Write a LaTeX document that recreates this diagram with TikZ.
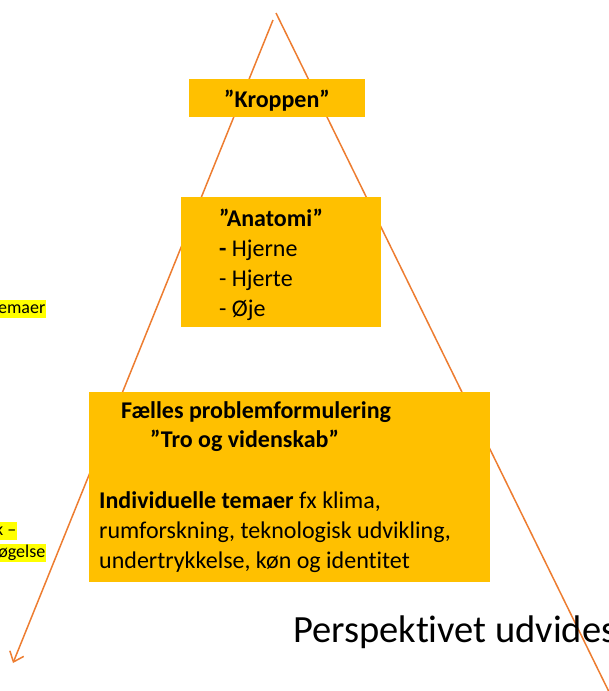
\documentclass[tikz,border=0pt]{standalone}
\usepackage{fontspec}
\setmainfont{Carlito}[Ligatures=NoCommon]
\usetikzlibrary{arrows.meta}
\definecolor{boxfill}{HTML}{FFC000}
\definecolor{lineor}{HTML}{ED7D31}
\definecolor{hlyellow}{HTML}{FFFF00}
\begin{document}
\begin{tikzpicture}[x=1pt,y=-1pt,
  conn/.style={draw=lineor, line width=1.5pt},
  box/.style={fill=boxfill, draw=none, inner sep=0pt},
  boxtext/.style={anchor=base west, inner sep=0pt, font=\fontsize{24}{30}\selectfont, align=left},
  hltext/.style={anchor=base east, fill=hlyellow, inner xsep=0.5pt, inner ysep=0pt, text height=13pt, text depth=4.5pt, font=\fontsize{18}{21}\selectfont}]
\useasboundingbox (0,0) rectangle (609,691);
\clip (0,0) rectangle (609,691);
% connector ends
\coordinate (ltop) at (273,20);
\coordinate (lend) at (13,663);
\coordinate (rtop) at (276,13);
\coordinate (rend) at (612,698);
\draw[conn, -{Straight Barb[length=9pt,width=15pt]}] (ltop) -- (lend);
\draw[conn] (rtop) -- (rend);
% boxes
\node[box, minimum width=176, minimum height=38] (kbox) at (277,98) {};
\node[box, minimum width=200, minimum height=130] (abox) at (281,262) {};
\node[box, minimum width=401, minimum height=190] (fbox) at (289.5,487) {};
% texts
\node[anchor=base, inner sep=0pt, font=\fontsize{24}{30}\selectfont\bfseries] (ktext) at (277,107) {”Kroppen”};
\node[boxtext] (atext) at (219,316) {\textbf{”Anatomi”}\\\textbf{-} Hjerne\\- Hjerte\\- Øje};
\node[boxtext, font=\fontsize{24}{30}\selectfont\bfseries] (ftext1) at (121,418) {Fælles problemformulering};
\node[boxtext, font=\fontsize{24}{30}\selectfont\bfseries] (ftext2) at (150,447) {”Tro og videnskab”};
\node[boxtext] (itext) at (99,568) {\textbf{Individuelle temaer} fx klima,\\rumforskning, teknologisk udvikling,\\undertrykkelse, køn og identitet};
\node[anchor=base west, inner sep=0pt, font=\fontsize{38.5}{44}\selectfont] (persp) at (293,642) {Perspektivet udvides};
% cut-off highlighted fragments at the left edge
\node[hltext] (frag1) at (46,313) {emaer};
\node[hltext] (frag2) at (17,535) {k –};
\node[hltext] (frag3) at (46,557) {øgelse};
\end{tikzpicture}
\end{document}
